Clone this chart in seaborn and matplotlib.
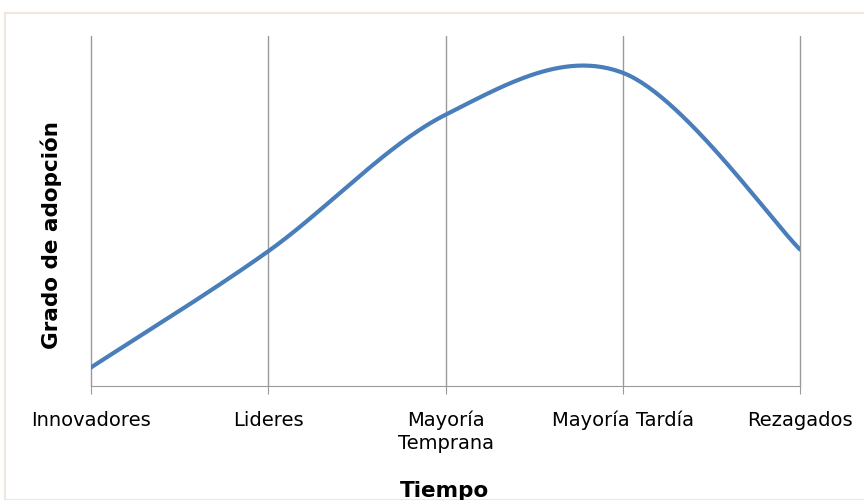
import matplotlib
matplotlib.use('Agg')
import numpy as np
import matplotlib.pyplot as plt
import seaborn as sns
from matplotlib.patches import Rectangle

categories = ["Innovadores", "Lideres", "Mayoría\nTemprana", "Mayoría Tardía", "Rezagados"]
adopcion = [5.3, 38.5, 77.5, 89.5, 39]

sns.set_style("white")
plt.rcParams['font.family'] = ['DejaVu Sans']
plt.rcParams['text.color'] = 'black'
plt.rcParams['xtick.color'] = 'black'

# Excel-like smoothed line (bezier through the category points)
pos = np.arange(len(categories), dtype=float)
vals = np.array(adopcion, dtype=float)
px = np.concatenate([[pos[0]], pos, [pos[-1]]])
py = np.concatenate([[vals[0]], vals, [vals[-1]]])
t = np.linspace(0, 1, 60)
xs, ys = [], []
for i in range(len(pos) - 1):
    p0 = np.array([px[i + 1], py[i + 1]])
    p3 = np.array([px[i + 2], py[i + 2]])
    p1 = p0 + (p3 - np.array([px[i], py[i]])) / 6
    p2 = p3 - (np.array([px[i + 3], py[i + 3]]) - p0) / 6
    b = ((1 - t) ** 3)[:, None] * p0 + (3 * (1 - t) ** 2 * t)[:, None] * p1 \
        + (3 * (1 - t) * t ** 2)[:, None] * p2 + (t ** 3)[:, None] * p3
    xs.extend(b[:, 0])
    ys.extend(b[:, 1])

fig = plt.figure(figsize=(8.64, 5), dpi=100)
fig.patches.append(Rectangle((5 / 864, 0), 1, 1 - 13 / 500, transform=fig.transFigure,
                             fill=False, edgecolor='#efe6dc', linewidth=1.5))
ax = fig.add_axes([91 / 864, 1 - 386 / 500, 709 / 864, 350 / 500])

sns.lineplot(x=xs, y=ys, ax=ax, color='#4a7ebb', linewidth=3, sort=False)

ax.set_xlim(0, len(categories) - 1)
ax.set_ylim(0, 100)
ax.set_xticks(pos)
ax.set_xticklabels(categories, fontsize=14, linespacing=1.25, color='black')
ax.set_yticks([])
for x in pos:
    ax.axvline(x, color='#9a9a9a', linewidth=1, zorder=0, clip_on=False)
for side in ['top', 'right', 'left']:
    ax.spines[side].set_visible(False)
ax.spines['bottom'].set_color('#9a9a9a')
ax.tick_params(axis='x', length=6, color='#9a9a9a', pad=12, bottom=True)

fig.text(51 / 864, 1 - 235 / 500, "Grado de adopción", rotation=90, ha='center', va='center',
         fontsize=15.5, fontweight='bold', color='black')
fig.text(445 / 864, 1 - 481 / 500, "Tiempo", ha='center', va='top', fontsize=15.5,
         fontweight='bold', color='black')

fig.savefig("out.png", dpi=100)
